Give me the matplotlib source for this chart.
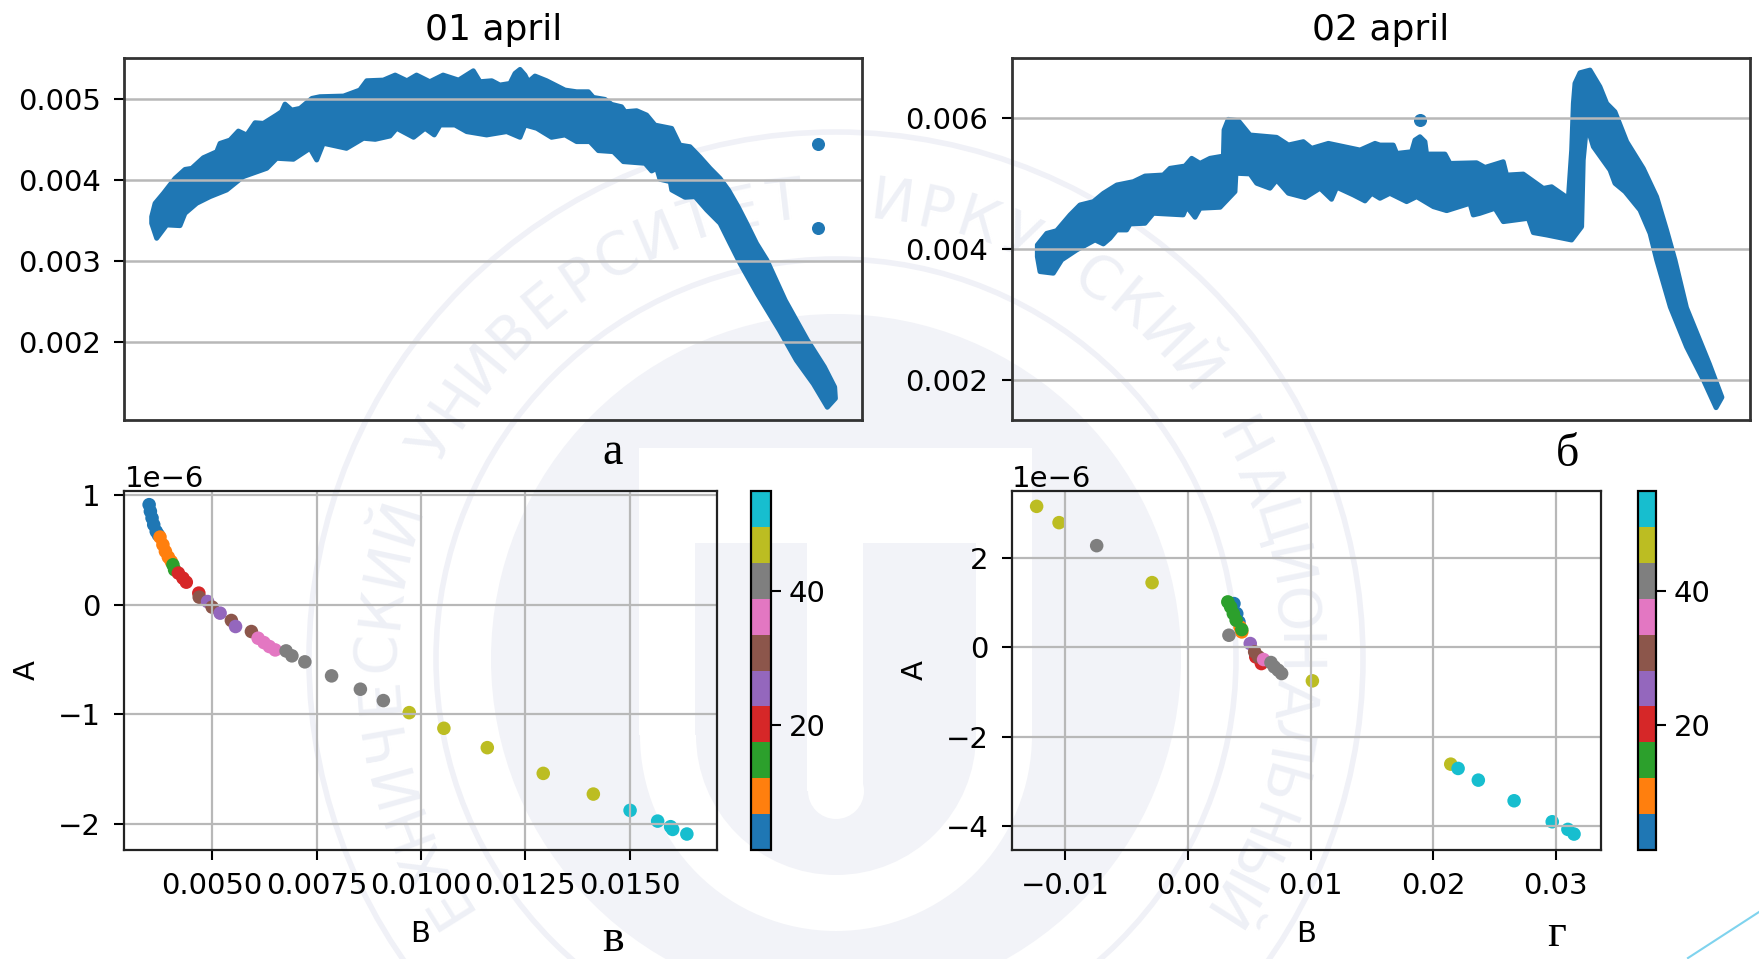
"""
Two-day panels (01/02 april) with A vs B scatter below, on a faint logo slide.
"""

import numpy as np
import matplotlib
matplotlib.use("Agg")
import matplotlib.pyplot as plt
from matplotlib.colors import Normalize
from matplotlib.patches import Circle, Rectangle

# 01 april band, edges
apr1_upper_x = [3.68, 4.14, 5.27, 6.85, 8.2, 9.11, 10.69, 12.5, 12.95, 14.3, 15.44, 16.57, 17.7, 18.83, 20.63, 21.3,
                21.76, 22.67, 23.8, 25.4, 26.5, 29.7, 31.9, 32.84, 35.1, 36.7, 38.3, 39.6, 41.4, 43.2, 45.3, 47.3,
                48.2, 49.8, 50.9, 52.27, 52.95, 53.63, 54.3, 54.76, 55.66, 57.24, 59.73, 61.3, 62.9, 63.57, 65.15,
                66.06, 67.4, 67.87, 69.45, 70.8, 71.93, 74.2, 75.3, 76.68, 78.0, 79.4, 80.75, 81.9, 83.2, 84.36,
                85.7, 87.1, 89.6, 92.6, 94.9, 96.3, 96.4]
apr1_upper_y = [.003542, .003707, .003830, .004015, .004126, .004139, .004270, .004344, .004447, .004488, .004599,
                .004550, .004702, .004694, .004797, .004838, .004932, .004858, .004879, .005002, .005023, .005031,
                .005105, .005220, .005228, .005290, .005220, .005290, .005208, .005290, .005228, .005343, .005208,
                .005220, .005167, .005187, .005311, .005360, .005290, .005208, .005278, .005220, .005105, .005084,
                .005084, .005014, .004990, .004928, .004899, .004838, .004850, .004797, .004673, .004632, .004426,
                .004406, .004282, .004139, .004015, .003871, .003666, .003460, .003213, .003008, .00251, .00202,
                .00169, .00144, .00130]
apr1_lower_x = [3.68, 4.36, 5.72, 7.53, 8.2, 9.79, 11.6, 13.85, 16.1, 19.3, 20.63, 22.9, 25.15, 26.06, 26.96, 30.1,
                32.4, 34.0, 36.0, 36.9, 39.2, 40.75, 42.0, 42.8, 44.8, 46.4, 49.1, 51.82, 53.63, 54.3, 55.9, 57.9,
                59.73, 61.3, 63.1, 64.25, 66.28, 67.64, 70.58, 71.48, 72.16, 72.6, 74.0, 74.2, 76.0, 77.36, 78.94,
                80.75, 82.1, 83.5, 85.8, 88.8, 91.1, 93.4, 95.3]
apr1_lower_y = [.003460, .003275, .003440, .003431, .003583, .003707, .003789, .003871, .004036, .004139, .004262,
                .004250, .004385, .004241, .004447, .004385, .004509, .004496, .004537, .004632, .004521, .004632,
                .004550, .004673, .004673, .004591, .004550, .004591, .004521, .004673, .004632, .004521, .004550,
                .004468, .004468, .004357, .004344, .004221, .004200, .004106, .004139, .004003, .003974, .003871,
                .003781, .003789, .003625, .003460, .003213, .00296, .00259, .00214, .00177, .00148, .00119]
apr1_out_x = [94.0, 94.0]
apr1_out_y = [.00444, .00340]

# 02 april band
apr2_upper_x = [3.43, 4.7, 6.05, 7.86, 9.2, 11.02, 12.38, 14.2, 16.44, 18.02, 20.5, 21.41, 23.44, 24.35, 25.48, 26.83,
                28.64, 28.73, 29.3, 30.67, 32.25, 35.86, 37.45, 39.48, 40.6, 42.87, 47.16, 49.19, 49.86, 51.67, 52.12,
                54.15, 54.6, 55.28, 55.96, 56.18, 58.67, 59.35, 62.96, 64.09, 66.57, 67.02, 69.28, 72.0, 73.12, 75.38,
                75.83, 76.06, 76.28, 76.96, 78.32, 79.67, 80.58, 81.7, 83.3, 85.54, 87.35, 88.7, 89.84, 91.4, 94.5,
                96.2]
apr2_upper_y = [.004060, .004238, .004279, .004519, .004672, .004723, .004850, .004978, .005029, .005115, .005131,
                .005233, .005268, .005386, .005309, .005386, .005421, .005819, .005982, .005962, .005743, .005707,
                .005590, .005641, .005539, .005615, .005513, .005615, .005589, .005589, .005461, .005487, .005665,
                .005716, .005640, .005451, .005451, .005308, .005318, .005247, .005334, .005130, .005145, .004926,
                .004951, .004773, .005512, .006226, .006532, .006695, .006736, .006481, .006226, .006099, .005640,
                .005232, .004798, .004288, .003830, .00310, .00224, .00173]
apr2_lower_x = [3.43, 3.79, 5.6, 6.73, 8.76, 11.25, 12.38, 13.28, 14.2, 15.54, 16.0, 18.02, 19.15, 23.2, 23.67, 24.8,
                25.48, 28.2, 30.22, 30.35, 32.25, 33.15, 34.96, 35.86, 37.45, 39.7, 41.74, 43.3, 44.0, 46.25, 47.83,
                48.74, 49.86, 51.2, 53.47, 54.83, 57.1, 58.9, 62.05, 62.5, 63.4, 65.44, 66.57, 69.96, 70.64, 72.45,
                75.83, 77.19, 77.41, 77.87, 78.77, 81.03, 81.7, 83.06, 85.09, 86.45, 87.35, 89.2, 91.4, 93.7, 95.4]
apr2_lower_y = [.003881, .003652, .003627, .003831, .003983, .004136, .004075, .004162, .004289, .004289, .004381,
                .004391, .004544, .004519, .004646, .004483, .004621, .004636, .004876, .005156, .005146, .005003,
                .004927, .005054, .004850, .004784, .004927, .004758, .004942, .004825, .004733, .004850, .004773,
                .004849, .004722, .004798, .004645, .004584, .004696, .004518, .004543, .004620, .004416, .004467,
                .004248, .004212, .004135, .004339, .005359, .005895, .005563, .005206, .005002, .004875, .004594,
                .004237, .003830, .00311, .00250, .00199, .00157]
apr2_out_x = [55.28]
apr2_out_y = [.00597]

# A vs B, A in units of 1e-6, c is the colour value
left_b = [.00349, .00352, .00356, .00360, .00366, .00371, .00375, .00382, .00388, .00395, .00402, .00406, .00410,
          .00419, .00430, .00438, .00468, .00469, .00489, .00500, .00519, .00546, .00556, .00594, .00610, .00624,
          .00637, .00651, .00677, .00691, .00722, .00786, .00855, .00910, .00972, .01055, .01159, .01293, .01413,
          .01501, .01567, .01598, .01603, .01637]
left_a = [.915, .854, .793, .732, .671, .640, .619, .549, .488, .436, .396, .366, .320, .290, .244, .207, .107,
          .070, .030, -.021, -.076, -.143, -.198, -.244, -.305, -.345, -.381, -.412, -.421, -.466, -.521, -.649,
          -.771, -.875, -.985, -1.128, -1.305, -1.54, -1.729, -1.878, -1.976, -2.027, -2.052, -2.094]
left_c = [4, 4, 4, 4, 4, 4, 9, 9, 9, 9, 9, 15, 15, 20, 20, 20, 20, 30, 25, 30, 25, 30, 25, 30, 36, 36, 36, 36,
          41, 41, 41, 41, 41, 41, 47, 47, 47, 47, 47, 52, 52, 52, 52, 52]

right_b = [.00375, .00398, .00416, .00425, .00439, .00334, .00325, .00348, .00370, .00393, .00439, .00553, .00599,
           .00508, .00544, .00576, .00617, .00677, .00704, .00736, .00764, -.00745, -.01235, -.01052, -.00293,
           .01015, .02144, .02204, .02369, .02661, .02972, .03100, .03150]
right_a = [.975, .751, .565, .454, .342, .268, 1.012, .900, .751, .603, .394, -.216, -.365, .082, -.104, -.216,
           -.275, -.342, -.439, -.513, -.588, 2.269, 3.147, 2.783, 1.443, -.751, -2.612, -2.708, -2.969, -3.43,
           -3.899, -4.07, -4.174]
right_c = [4, 4, 4, 9, 9, 41, 15, 15, 15, 15, 15, 20, 20, 25, 30, 30, 36, 41, 41, 41, 41, 41, 47, 47, 47, 47, 47,
           52, 52, 52, 52, 52, 52]

left_xticks = [0.005, 0.0075, 0.01, 0.0125, 0.015]
right_xticks = [-0.01, 0.0, 0.01, 0.02, 0.03]

RING_TEXT = "ИРКУТСКИЙ НАЦИОНАЛЬНЫЙ ИССЛЕДОВАТЕЛЬСКИЙ ТЕХНИЧЕСКИЙ УНИВЕРСИТЕТ"

W, H = 1759, 959
BLUE = "#1f77b4"
GRID = "#b8b8b8"
SHADE = "#f2f3f8"
RING = "#f0f1f7"
TICK_SIZE = 21

plt.rcParams["font.family"] = "DejaVu Sans"


def px_axes(fig, x0, y0, x1, y1):
    """Axes from pixel box measured from the top left corner."""
    ax = fig.add_axes([x0 / W, 1 - y1 / H, (x1 - x0) / W, (y1 - y0) / H])
    ax.patch.set_alpha(0)
    return ax


def draw_watermark(fig):
    bg = fig.add_axes([0, 0, 1, 1], zorder=-1)
    bg.set_xlim(0, W)
    bg.set_ylim(H, 0)
    bg.axis("off")

    cx, cy = 836, 659
    bg.add_patch(Circle((cx, cy), 345, fc=SHADE, ec="none"))
    # white U with the stem in the middle
    bg.add_patch(Rectangle((639, 448), 393, 287, fc="white", ec="none"))
    bg.add_patch(Circle((cx, 735), 196, fc="white", ec="none"))
    bg.add_patch(Rectangle((695, 543), 281, 192, fc=SHADE, ec="none"))
    bg.add_patch(Circle((cx, 735), 140, fc=SHADE, ec="none"))
    bg.add_patch(Rectangle((807, 448), 56, 343, fc="white", ec="none"))
    bg.add_patch(Circle((cx, 791), 28, fc="white", ec="none"))

    for r in (400, 527):
        bg.add_patch(Circle((cx, cy), r, fc="none", ec=RING, lw=4))

    for i, ch in enumerate(RING_TEXT):
        theta = 7 + 5.5 * i
        x = cx + 458 * np.sin(np.radians(theta))
        y = cy - 458 * np.cos(np.radians(theta))
        # the bottom of the ring runs off the slide
        if y > H - 40:
            continue
        bg.text(x, y, ch, fontsize=42, color="#eef0f6", rotation=-theta,
                rotation_mode="anchor", ha="center", va="center")

    # slide corner line
    bg.plot([1688, 1759], [958, 912], color="#7fd3ee", lw=1.5)


def plot_band(ax, upper_x, upper_y, lower_x, lower_y, out_x, out_y, ylim, yticks):
    xs = np.r_[upper_x, lower_x[::-1]]
    ys = np.r_[upper_y, lower_y[::-1]]
    ax.fill(xs, ys, fc=BLUE, ec=BLUE, lw=3.5, joinstyle="round", zorder=1)
    ax.scatter(out_x, out_y, s=70, color=BLUE, zorder=1)
    ax.set_xlim(0, 100)
    ax.set_ylim(*ylim)
    ax.set_xticks([])
    ax.set_yticks(yticks)
    ax.yaxis.grid(True, color=GRID, lw=1.8)
    ax.tick_params(axis="y", labelsize=TICK_SIZE, length=7, width=1.5, pad=10)
    for s in ax.spines.values():
        s.set_linewidth(2.0)
        s.set_color("#333333")


def plot_scatter(fig, ax, cax, b, a, c, xlim, ylim, xticks, yticks):
    sc = ax.scatter(b, np.array(a) * 1e-6, c=c, cmap="tab10", norm=Normalize(1.4, 54.9), s=95, linewidths=0)
    ax.set_xlim(*xlim)
    ax.set_ylim(ylim[0] * 1e-6, ylim[1] * 1e-6)
    ax.set_xticks(xticks)
    ax.set_yticks(np.array(yticks) * 1e-6)
    ax.grid(True, color=GRID, lw=1.6)
    ax.set_xlabel("B", fontsize=21, labelpad=14)
    ax.set_ylabel("A", fontsize=21, labelpad=12)
    ax.tick_params(labelsize=TICK_SIZE, length=7, width=1.5, pad=10)
    ax.tick_params(axis="x", pad=9)
    ax.yaxis.get_offset_text().set_fontsize(21)
    for s in ax.spines.values():
        s.set_linewidth(1.6)
        s.set_color("#222222")

    cb = fig.colorbar(sc, cax=cax)
    cb.set_ticks([20, 40])
    cb.ax.tick_params(labelsize=TICK_SIZE, length=7, width=1.5, pad=6)
    cb.outline.set_linewidth(1.6)


fig = plt.figure(figsize=(W / 100, H / 100), dpi=100, facecolor="white")
draw_watermark(fig)

ax_a = px_axes(fig, 124.5, 58, 862, 419.5)
plot_band(ax_a, apr1_upper_x, apr1_upper_y, apr1_lower_x, apr1_lower_y, apr1_out_x, apr1_out_y,
          (0.00104, 0.0055), [0.002, 0.003, 0.004, 0.005])
ax_a.set_title("01 april", fontsize=26, pad=13)

ax_b = px_axes(fig, 1012, 58, 1750, 419.5)
plot_band(ax_b, apr2_upper_x, apr2_upper_y, apr2_lower_x, apr2_lower_y, apr2_out_x, apr2_out_y,
          (0.00139, 0.00692), [0.002, 0.004, 0.006])
ax_b.set_title("02 april", fontsize=26, pad=13)

ax_c = px_axes(fig, 124.5, 491, 716.5, 850)
cax_c = px_axes(fig, 751, 491, 771, 850)
plot_scatter(fig, ax_c, cax_c, left_b, left_a, left_c, (0.0029, 0.01708), (-2.24, 1.04), left_xticks, [-2, -1, 0, 1])

ax_d = px_axes(fig, 1012, 491, 1601, 850)
cax_d = px_axes(fig, 1638, 491, 1656, 850)
plot_scatter(fig, ax_d, cax_d, right_b, right_a, right_c, (-0.01436, 0.0337), (-4.53, 3.49), right_xticks,
             [-4, -2, 0, 2])

# panel letters
for label, px, py in [("а", 613, 453), ("б", 1567, 455), ("в", 613, 940), ("г", 1557, 935)]:
    fig.text(px / W, 1 - py / H, label, fontsize=33, family="Liberation Serif", ha="center", va="center")

fig.savefig("out.png", dpi=100)
